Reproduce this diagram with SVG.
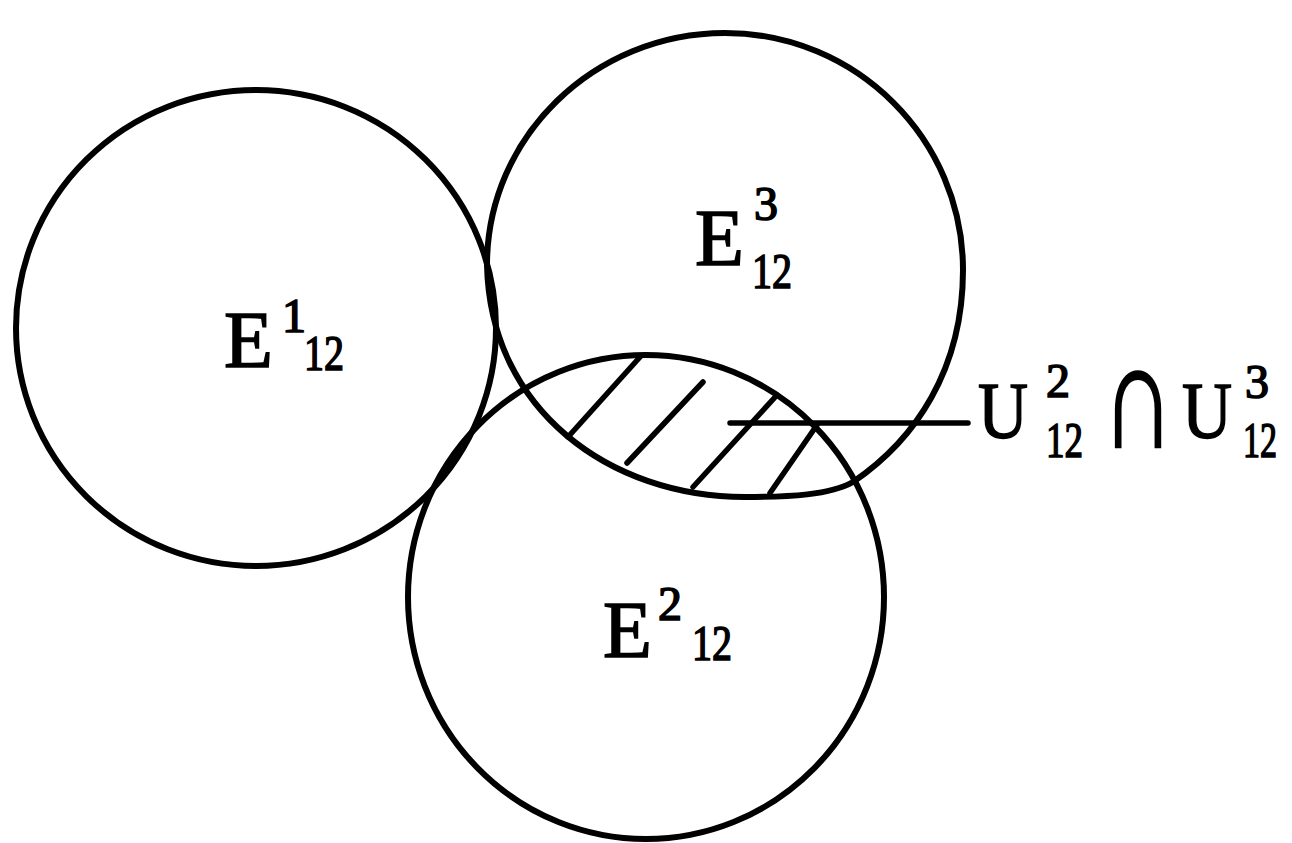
<svg xmlns="http://www.w3.org/2000/svg" width="1292" height="843" viewBox="0 0 1292 843">
<style>
.c{fill:none;stroke:#000;stroke-width:6;stroke-linejoin:round;stroke-linecap:round}
.h{fill:none;stroke:#000;stroke-width:5.5;stroke-linecap:round}
.t{font-family:"Liberation Serif","Times New Roman",serif;fill:#000;stroke:#000;stroke-width:1.6}
.m{font-size:80px}
.s{font-size:48px}
.b{font-size:50px}
</style>
<rect width="1292" height="843" fill="#fff"/>
<g id="E1">
<ellipse class="c" cx="256" cy="328" rx="240" ry="238"/>
<text class="t"><tspan class="m" x="224" y="367">E</tspan><tspan class="s" x="282" y="332">1</tspan><tspan class="b" x="304" y="370" textLength="40" lengthAdjust="spacingAndGlyphs">12</tspan></text>
</g>
<g id="E2">
<ellipse class="c" cx="646" cy="597" rx="238" ry="242"/>
<text class="t"><tspan class="m" x="603" y="657">E</tspan><tspan class="s" x="658" y="620">2</tspan><tspan class="b" x="692" y="660" textLength="40" lengthAdjust="spacingAndGlyphs">12</tspan></text>
</g>
<g id="E3">
<path class="c" d="M725 33 C856 33 963 139 963 270 C963 370 915 440 853 482 C830 495 790 497 745 497 C610 497 490 410 487 265 C487 137 594 33 725 33 Z"/>
<text class="t"><tspan class="m" x="695" y="265">E</tspan><tspan class="s" x="754" y="220">3</tspan><tspan class="b" x="752" y="288" textLength="40" lengthAdjust="spacingAndGlyphs">12</tspan></text>
</g>
<g id="hatch">
<line class="h" x1="640" y1="357" x2="568" y2="437"/>
<line class="h" x1="703" y1="382" x2="627" y2="463"/>
<line class="h" x1="777" y1="395" x2="693" y2="487"/>
<line class="h" x1="817" y1="425" x2="770" y2="493"/>
</g>
<g id="connectors">
<line class="h" x1="730" y1="423" x2="968" y2="423" stroke-linecap="butt"/>
</g>
<g id="label">
<text class="t m" x="978" y="438" textLength="50" lengthAdjust="spacingAndGlyphs">U</text>
<text class="t s" x="1046" y="397">2</text>
<text class="t b" x="1046" y="457" textLength="37" lengthAdjust="spacingAndGlyphs">12</text>
<text class="t" transform="translate(1102 447) scale(1 1.5)" x="0" y="0" font-size="100" stroke-width="0">∩</text>
<text class="t m" x="1182" y="438" textLength="50" lengthAdjust="spacingAndGlyphs">U</text>
<text class="t s" x="1245" y="398">3</text>
<text class="t b" x="1243" y="457" textLength="34" lengthAdjust="spacingAndGlyphs">12</text>
</g>
</svg>
